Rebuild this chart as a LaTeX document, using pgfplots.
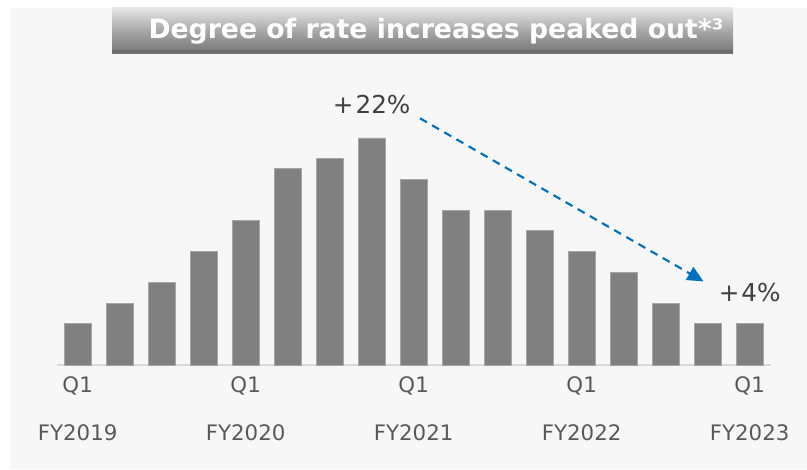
\documentclass[border=0pt]{standalone}
\usepackage{pgfplots}
\pgfplotsset{compat=1.18}
\usetikzlibrary{arrows.meta}
\usepackage{fontspec}
\setmainfont{DejaVu Sans}
\definecolor{bg}{HTML}{F7F7F7}
\definecolor{barc}{HTML}{808080}
\definecolor{txt}{HTML}{595959}
\definecolor{arrowc}{HTML}{0070C0}
\begin{document}
\begin{tikzpicture}
% 1px of the reference = 0.75pt
\useasboundingbox (0,0) rectangle (605.25pt,351.75pt);
\fill[bg] (7.5pt,0) rectangle (605.25pt,345.75pt);
\shade[top color=black!10, bottom color=black!54, middle color=black!34]
  (84pt,312pt) rectangle (549.75pt,345.75pt);
\fill[black!58] (84pt,312pt) rectangle (549.75pt,314pt);
\node[text=white, font=\bfseries\fontsize{20}{22}\selectfont] at (327pt,328pt)
  {Degree of rate increases peaked out*³};
\begin{axis}[
  at={(42.5pt,78pt)}, anchor=south west,
  scale only axis, width=535.5pt, height=185.8pt,
  xmin=-0.5, xmax=16.5, ymin=0, ymax=24,
  axis x line*=bottom, axis y line=none,
  x axis line style={draw=black!15, line width=1pt, -},
  xtick={0,4,8,12,16},
  xticklabels={{Q1\\FY2019},{Q1\\FY2020},{Q1\\FY2021},{Q1\\FY2022},{Q1\\FY2023}},
  major tick length=0pt,
  xticklabel style={align=center, text=txt, font=\fontsize{16}{36}\selectfont, yshift=-5pt},
  clip=false,
]
\addplot[ybar, bar width=19.9pt, bar shift=0pt, fill=barc, draw=black!35, line width=0.6pt]
  coordinates {(0,4) (1,6) (2,8) (3,11) (4,14) (5,19) (6,20) (7,22) (8,18)
               (9,15) (10,15) (11,13) (12,11) (13,9) (14,6) (15,4) (16,4)};
\node[font=\fontsize{18.5}{20}\selectfont, text=black!75] at (axis cs:7,25.2) {+\kern1.5pt22\%};
\node[font=\fontsize{18.5}{20}\selectfont, text=black!75] at (axis cs:16,7) {+\kern1.5pt4\%};
\draw[arrowc, line width=1.6pt, dash pattern=on 6pt off 4.5pt,
      -{Triangle[length=12pt,width=11pt]}]
  (axis cs:8.15,23.9) -- (axis cs:14.9,8.1);
\end{axis}
\end{tikzpicture}
\end{document}
